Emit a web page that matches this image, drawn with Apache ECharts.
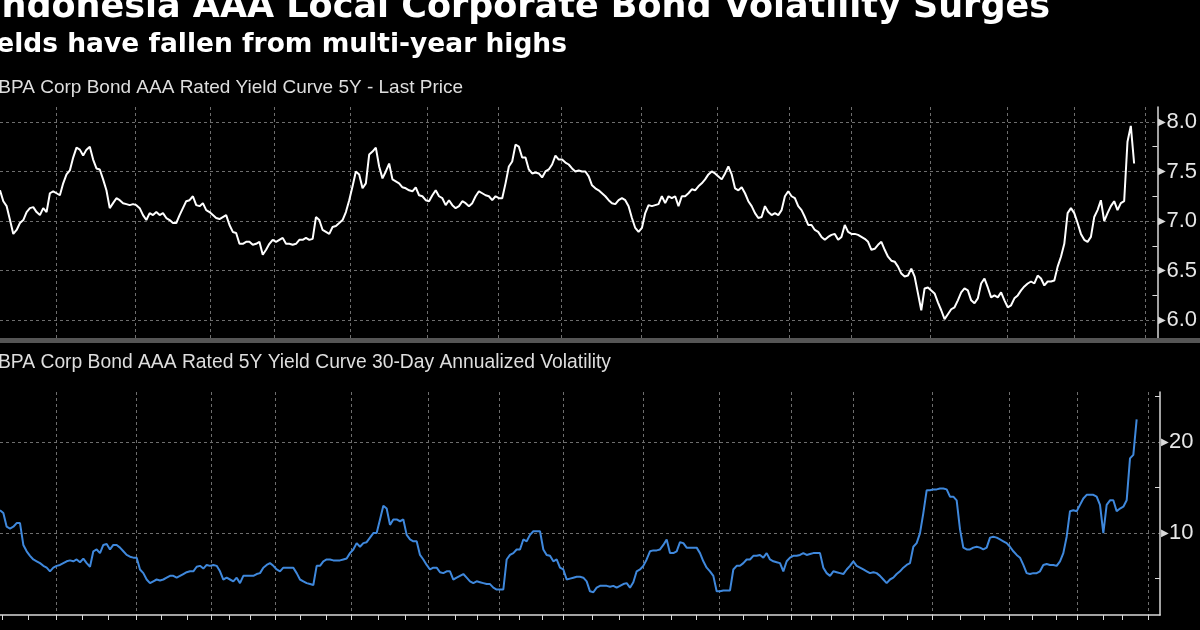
<!DOCTYPE html>
<html>
<head>
<meta charset="utf-8">
<script src="https://cdn.jsdelivr.net/npm/echarts@6/dist/echarts.min.js"></script>
<style>
  html, body { margin: 0; padding: 0; background: #000; }
  #main { width: 1200px; height: 630px; }
</style>
</head>
<body>
<div id="main"></div>
<script>
// x position of each sample (index) — one sample roughly every 3.3px
// yield curve 5Y, last price (%)
var yieldData = [
  7.31, 7.2, 7.15, 7.01, 6.87, 6.91, 6.98, 7.01, 7.09, 7.13,
  7.14, 7.09, 7.06, 7.13, 7.09, 7.28, 7.3, 7.28, 7.26, 7.38,
  7.47, 7.51, 7.64, 7.74, 7.72, 7.66, 7.72, 7.75, 7.62, 7.53,
  7.52, 7.42, 7.31, 7.13, 7.18, 7.23, 7.21, 7.18, 7.17, 7.16,
  7.17, 7.16, 7.13, 7.06, 7.01, 7.08, 7.06, 7.09, 7.06, 7.08,
  7.03, 7.01, 6.98, 6.98, 7.06, 7.13, 7.2, 7.21, 7.25, 7.16,
  7.15, 7.18, 7.11, 7.09, 7.06, 7.03, 7.02, 7.04, 7.06, 6.96,
  6.89, 6.88, 6.77, 6.77, 6.79, 6.79, 6.76, 6.77, 6.79, 6.66,
  6.71, 6.77, 6.81, 6.79, 6.81, 6.83, 6.77, 6.77, 6.76, 6.77,
  6.81, 6.81, 6.83, 6.81, 6.82, 7.04, 7.01, 6.91, 6.89, 6.87,
  6.94, 6.95, 6.98, 7.01, 7.09, 7.21, 7.35, 7.5, 7.47, 7.33,
  7.38, 7.67, 7.7, 7.74, 7.55, 7.43, 7.5, 7.58, 7.42, 7.4,
  7.38,
  7.34, 7.33, 7.31, 7.3, 7.34, 7.26, 7.25, 7.21, 7.2, 7.26,
  7.31, 7.25, 7.23, 7.16, 7.21, 7.16, 7.13, 7.15, 7.2, 7.18,
  7.15, 7.18, 7.25, 7.3, 7.28, 7.26, 7.25, 7.21, 7.25, 7.23,
  7.23, 7.38, 7.55, 7.6, 7.77, 7.75, 7.64, 7.64, 7.52, 7.48,
  7.49, 7.48, 7.44, 7.5, 7.52, 7.57, 7.66, 7.62, 7.62, 7.59,
  7.57, 7.53, 7.5, 7.51, 7.5, 7.5, 7.45, 7.36, 7.33, 7.31,
  7.28, 7.25, 7.21, 7.18, 7.17, 7.21, 7.23, 7.21, 7.15, 7.03,
  6.93, 6.89, 6.93, 7.08, 7.16, 7.15, 7.16, 7.17, 7.25, 7.18,
  7.25, 7.23, 7.25, 7.15, 7.25, 7.25, 7.28, 7.32, 7.31, 7.35,
  7.38, 7.42, 7.47, 7.5, 7.48, 7.45, 7.42, 7.48, 7.55, 7.47,
  7.33, 7.31, 7.34, 7.28, 7.2, 7.15, 7.08, 7.03, 7.04, 7.15,
  7.09, 7.06, 7.08,
  7.06, 7.11, 7.25, 7.3, 7.25, 7.23, 7.15, 7.11, 7.04, 6.96,
  6.96, 6.91, 6.89, 6.84, 6.81, 6.84, 6.86, 6.87, 6.81, 6.84,
  6.96, 6.89, 6.87, 6.87, 6.86, 6.84, 6.82, 6.79, 6.71, 6.72,
  6.76, 6.79, 6.71, 6.64, 6.6, 6.59, 6.54, 6.47, 6.44, 6.45,
  6.52, 6.44, 6.27, 6.1, 6.32, 6.33, 6.3, 6.27, 6.18, 6.1,
  6.01, 6.06, 6.11, 6.13, 6.2, 6.28, 6.32, 6.3, 6.2, 6.17,
  6.22, 6.37, 6.42, 6.33, 6.23, 6.25, 6.23, 6.28, 6.2, 6.13,
  6.15, 6.22, 6.25, 6.3, 6.34, 6.37, 6.39, 6.37, 6.45, 6.42,
  6.35, 6.39, 6.39, 6.4, 6.54, 6.64, 6.77, 7.08, 7.13, 7.08,
  6.98, 6.87, 6.81, 6.79, 6.84, 7.04, 7.11, 7.21, 7.0, 7.08,
  7.15, 7.2, 7.11, 7.18, 7.2, 7.8, 7.96, 7.58
];

// 30-day annualized volatility
var volData = [
  12.5, 12.2, 10.7, 10.5, 10.7, 11.1, 11.1, 8.7, 8.0, 7.5,
  7.1, 6.9, 6.7, 6.4, 6.2, 5.8, 6.2, 6.4, 6.5, 6.7,
  6.9, 7.0, 6.9, 7.1, 6.8, 7.2, 6.7, 6.3, 8.0, 8.2,
  7.8, 8.7, 8.8, 8.2, 8.7, 8.7, 8.4, 8.0, 7.6, 7.4,
  7.3, 7.3, 6.0, 5.6, 4.9, 4.5, 4.7, 4.9, 4.8, 4.9,
  5.1, 5.3, 5.3, 5.1, 5.3, 5.5, 5.7, 5.8, 5.8, 6.3,
  6.4, 6.1, 6.5, 6.4, 6.5, 6.4, 5.8, 4.9, 5.1, 4.9,
  4.7, 5.1, 4.5, 5.3, 5.3, 5.3, 5.3, 5.5, 5.6, 6.2,
  6.5, 6.7, 6.4, 6.0, 5.8, 6.2, 6.2, 6.2, 6.2, 5.6,
  4.9, 4.7, 4.5, 4.4, 4.3, 6.4, 6.4, 6.9, 7.1, 7.1,
  7.0, 7.0, 7.0, 7.1, 7.2, 7.8, 8.2, 8.9, 8.5, 8.9,
  9.0, 9.5, 10.0, 10.0, 11.5, 13.0, 12.7, 10.9, 11.5, 11.5,
  11.3,
  11.5, 9.8, 9.3, 9.1, 9.1, 7.6, 7.1, 6.5, 6.0, 6.2,
  6.2, 5.7, 5.6, 5.8, 5.8, 4.9, 5.1, 5.3, 5.5, 5.1,
  4.7, 4.5, 4.7, 4.6, 4.5, 4.4, 4.4, 4.0, 3.8, 3.8,
  3.8, 7.1, 7.6, 7.8, 8.2, 8.2, 9.3, 9.1, 9.8, 10.2,
  10.2, 10.2, 8.2, 7.6, 7.5, 6.9, 7.1, 6.2, 6.0, 4.9,
  5.0, 5.1, 5.2, 5.2, 5.1, 4.7, 3.6, 3.5, 4.0, 4.2,
  4.2, 4.2, 4.1, 4.2, 4.0, 4.2, 4.4, 4.5, 4.0, 4.6,
  5.8, 6.0, 6.4, 7.1, 8.0, 8.1, 8.1, 8.2, 8.7, 9.3,
  7.8, 7.8, 8.0, 9.0, 8.9, 8.4, 8.4, 8.4, 8.4, 7.8,
  6.9, 6.2, 5.8, 5.3, 3.6, 3.6, 3.7, 3.7, 3.7, 6.0,
  6.4, 6.4, 6.7, 7.1, 7.1, 7.5, 7.5, 7.6, 7.3, 7.8,
  7.1, 6.9, 6.8,
  6.7, 5.8, 6.9, 7.3, 7.5, 7.5, 7.6, 7.8, 7.6, 7.7,
  7.8, 7.8, 7.8, 6.2, 5.6, 5.3, 5.8, 5.7, 5.6, 5.5,
  6.0, 6.4, 6.9, 6.4, 6.2, 6.0, 5.8, 5.6, 5.7, 5.6,
  5.3, 4.9, 4.5, 4.9, 5.1, 5.5, 5.8, 6.2, 6.5, 6.7,
  8.5, 8.9, 10.0, 12.2, 14.7, 14.7, 14.8, 14.8, 14.9, 14.9,
  14.8, 14.0, 14.0, 13.6, 10.4, 8.4, 8.2, 8.2, 8.4, 8.5,
  8.4, 8.2, 8.4, 9.5, 9.6, 9.5, 9.3, 9.1, 8.9, 8.5,
  8.0, 7.6, 7.3, 6.5, 5.6, 5.5, 5.6, 5.6, 5.8, 6.5,
  6.6, 6.5, 6.5, 6.4, 6.9, 7.8, 9.6, 12.4, 12.5, 12.4,
  13.1, 13.8, 14.2, 14.2, 14.2, 14.0, 13.1, 10.0, 13.1, 13.6,
  13.6, 12.4, 12.7, 12.9, 13.6, 18.2, 18.6, 22.5
];

// quarter gridlines and monthly ticks, in sample units
var quarterTicks = [16.8, 40.8, 63.3, 82.5, 105.3, 128.4, 149.7, 168.9, 192.9,
  215.7, 237.3, 255.9, 279.6, 302.7, 323.1, 344.4];
var monthTicks = [0.6, 8.4, 16.8, 24.6, 32.4, 40.8, 48.3, 56.1, 63.3, 68.7, 75,
  82.5, 90, 97.8, 105.3, 113.4, 121.5, 128.4, 136.5, 143.1, 149.7, 155.7, 162.6,
  168.9, 177.6, 185.7, 192.9, 201.3, 208.8, 215.7, 222.9, 230.1, 237.3, 243.3,
  249.3, 255.9, 264.9, 272.1, 279.6, 288, 295.2, 302.7, 309.6, 316.8, 323.1,
  330.9, 336.6, 344.4];

var yieldLabels = [6.0, 6.5, 7.0, 7.5, 8.0];
var yieldMinor = [6.25, 6.75, 7.25, 7.75];
var volLabels = [10, 20];
var volMinor = [5, 15, 25];

var titleText = "Indonesia AAA Local Corporate Bond Volatility Surges";
var subtitleText = "Yields have fallen from multi-year highs";
var topLabel = "IBPA Corp Bond AAA Rated Yield Curve 5Y - Last Price";
var bottomLabel = "IBPA Corp Bond AAA Rated 5Y Yield Curve 30-Day Annualized Volatility";

var gridColor = "#6e6e6e";
var axisColor = "#d9d9d9";

function pairs(arr) {
  return arr.map(function (v, i) { return [i, v]; });
}

function xAx(grid, ticks, opts) {
  return Object.assign({
    type: "value", gridIndex: grid, position: "bottom", min: 0, max: 348,
    axisLine: { show: false, onZero: false },
    axisLabel: { show: false },
    axisTick: { show: false, customValues: ticks },
    splitLine: { show: true, lineStyle: { color: gridColor, type: [3, 3], width: 1 } }
  }, opts || {});
}

function yMajor(grid, min, max, labels, digits) {
  return {
    type: "value", gridIndex: grid, position: "right", min: min, max: max,
    axisLine: { show: true, onZero: false, lineStyle: { color: axisColor, width: 1.5 } },
    axisTick: { show: false, customValues: labels },
    axisLabel: {
      customValues: labels, margin: 1, color: "#e6e6e6",
      fontFamily: "Liberation Sans", fontSize: 22,
      formatter: function (v) { return "{t|▶}" + v.toFixed(digits); },
      rich: { t: { fontSize: 10, color: axisColor, padding: [0, 0, 0, 0] } }
    },
    splitLine: { show: true, lineStyle: { color: gridColor, type: [3, 3], width: 1 } }
  };
}

function yMinor(grid, min, max, ticks) {
  return {
    type: "value", gridIndex: grid, position: "right", min: min, max: max,
    axisLine: { show: false, onZero: false },
    axisLabel: { show: false },
    axisTick: { show: true, inside: true, length: 5, customValues: ticks,
      lineStyle: { color: axisColor, width: 1 } },
    splitLine: { show: false }
  };
}

var myChart = echarts.init(document.getElementById("main"));
myChart.setOption({
  backgroundColor: "#000",
  animation: false,
  grid: [
    { left: 0, right: 40, top: 107, height: 233 },
    { left: 0, right: 40, top: 392, height: 223 }
  ],
  xAxis: [
    xAx(0, quarterTicks),
    xAx(1, quarterTicks),
    xAx(1, monthTicks, {
      axisLine: { show: true, onZero: false, lineStyle: { color: axisColor, width: 1.5 } },
      axisTick: { show: true, customValues: monthTicks, length: 5, lineStyle: { color: axisColor } },
      splitLine: { show: false }
    })
  ],
  yAxis: [
    yMajor(0, 5.8, 8.15, yieldLabels, 1),
    yMinor(0, 5.8, 8.15, yieldMinor),
    yMajor(1, 1, 25.5, volLabels, 0),
    yMinor(1, 1, 25.5, volMinor)
  ],
  series: [
    {
      type: "line", xAxisIndex: 0, yAxisIndex: 0, data: pairs(yieldData),
      showSymbol: false, lineStyle: { color: "#ffffff", width: 2 }, z: 5
    },
    {
      type: "line", xAxisIndex: 2, yAxisIndex: 2, data: pairs(volData),
      showSymbol: false, lineStyle: { color: "#3f88dc", width: 2 }, z: 5
    }
  ],
  graphic: [
    { type: "rect", shape: { x: 0, y: 338, width: 1200, height: 5 }, style: { fill: "#555555" }, z: 1 },
    { type: "text", x: 1050, y: 8, style: { text: titleText, fill: "#ffffff",
        font: 'bold 35px "DejaVu Sans"', align: "right", verticalAlign: "middle" } },
    { type: "text", x: 567, y: 45, style: { text: subtitleText, fill: "#ffffff",
        font: 'bold 26.5px "DejaVu Sans"', align: "right", verticalAlign: "middle" } },
    { type: "text", x: 463, y: 88, style: { text: topLabel, fill: "#dedede",
        font: '19px "Liberation Sans"', align: "right", verticalAlign: "middle" } },
    { type: "text", x: 611, y: 363, style: { text: bottomLabel, fill: "#dedede",
        font: '19.3px "Liberation Sans"', align: "right", verticalAlign: "middle" } }
  ]
});
</script>
</body>
</html>
